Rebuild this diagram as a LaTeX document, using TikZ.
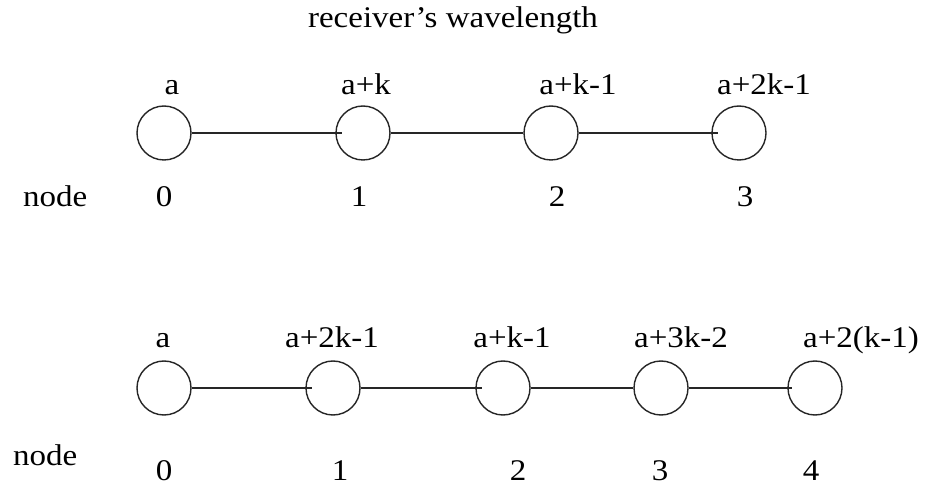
\documentclass[tikz,border=0pt]{standalone}
\usepackage{fontspec}
\setmainfont{Liberation Serif}[FakeStretch=1.1]
\begin{document}
\begin{tikzpicture}[x=1pt,y=1pt,
  lbl/.style={anchor=base,inner sep=0pt,font=\fontsize{30}{36}\selectfont},
  vx/.style={draw=black!85,line width=1.4pt,circle,minimum size=54pt,inner sep=0pt},
  edge/.style={draw=black!85,line width=1.3pt}]
\useasboundingbox[fill=white] (0,0) rectangle (927,-486);
% title
\node[lbl] (title) at (453,-28) {receiver's wavelength};
% top row
\node[lbl] (ta0) at (172,-95) {a};
\node[lbl] (ta1) at (366,-95) {a+k};
\node[lbl] (ta2) at (578,-95) {a+k-1};
\node[lbl] (ta3) at (764,-95) {a+2k-1};
\node[vx] (t0) at (164,-133) {};
\node[vx] (t1) at (363,-133) {};
\node[vx] (t2) at (551,-133) {};
\node[vx] (t3) at (739,-133) {};
\draw[edge] (t0.east) -- ([xshift=7pt]t1.west);
\draw[edge] (t1.east) -- (t2.west);
\draw[edge] (t2.east) -- ([xshift=7pt]t3.west);
\node[lbl,anchor=base west] (tnode) at (23,-207) {node};
\node[lbl] (tn0) at (164,-207) {0};
\node[lbl] (tn1) at (359,-207) {1};
\node[lbl] (tn2) at (557,-207) {2};
\node[lbl] (tn3) at (745,-207) {3};
% bottom row
\node[lbl] (ba0) at (163,-348) {a};
\node[lbl] (ba1) at (332,-348) {a+2k-1};
\node[lbl] (ba2) at (512,-348) {a+k-1};
\node[lbl] (ba3) at (681,-348) {a+3k-2};
\node[lbl] (ba4) at (861,-348) {a+2(k-1)};
\node[vx] (b0) at (164,-388) {};
\node[vx] (b1) at (333,-388) {};
\node[vx] (b2) at (503,-388) {};
\node[vx] (b3) at (661,-388) {};
\node[vx] (b4) at (815,-388) {};
\draw[edge] (b0.east) -- ([xshift=7pt]b1.west);
\draw[edge] (b1.east) -- ([xshift=7pt]b2.west);
\draw[edge] (b2.east) -- (b3.west);
\draw[edge] (b3.east) -- ([xshift=5pt]b4.west);
\node[lbl,anchor=base west] (bnode) at (13,-465) {node};
\node[lbl] (bn0) at (164,-480) {0};
\node[lbl] (bn1) at (340,-480) {1};
\node[lbl] (bn2) at (518,-480) {2};
\node[lbl] (bn3) at (660,-480) {3};
\node[lbl] (bn4) at (811,-480) {4};
\end{tikzpicture}
\end{document}
